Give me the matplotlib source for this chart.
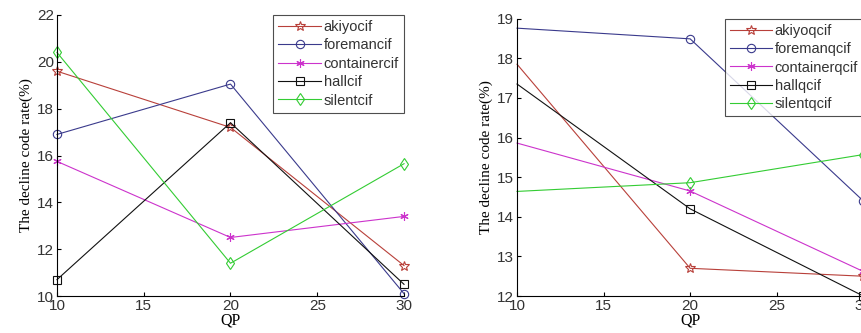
import matplotlib
matplotlib.use("Agg")
import matplotlib.pyplot as plt
from matplotlib.lines import Line2D

qp = [10, 20, 30]

# left panel (cif)
cif_names = ["akiyocif", "foremancif", "containercif", "hallcif", "silentcif"]
akiyo_cif = [19.6, 17.2, 11.3]
foreman_cif = [16.9, 19.05, 10.1]
container_cif = [15.75, 12.5, 13.4]
hall_cif = [10.7, 17.4, 10.5]
silent_cif = [20.4, 11.4, 15.65]

# right panel (qcif)
qcif_names = ["akiyoqcif", "foremanqcif", "containerqcif", "hallqcif", "silentqcif"]
akiyo_qcif = [17.85, 12.7, 12.5]
foreman_qcif = [18.76, 18.49, 14.4]
container_qcif = [15.86, 14.65, 12.62]
hall_qcif = [17.35, 14.2, 12.0]
silent_qcif = [14.64, 14.86, 15.57]

colors = ["#b8403a", "#3a3a8c", "#cc33cc", "#111111", "#33cc33"]
markers = ["*", "o", (6, 2, 0), "s", "d"]
msizes = [7, 6, 6, 6, 6]

plt.rcParams["font.family"] = ["Liberation Sans", "DejaVu Sans"]

fig = plt.figure(figsize=(8.62, 3.33), dpi=100)
ax1 = fig.add_axes([0.0661, 0.111, 0.4026, 0.844])
ax2 = fig.add_axes([0.5998, 0.111, 0.4017, 0.833])


def style(c, m, ms):
    return dict(color=c, lw=0.8, marker=m, markersize=ms, markerfacecolor="none",
                markeredgecolor=c, markeredgewidth=0.8)


def draw(ax, series, names, ylim, yticks, markevery):
    for vals, name, c, m, ms in zip(series, names, colors, markers, msizes):
        ax.plot(qp, vals, markevery=markevery, clip_on=False, label=name, **style(c, m, ms))
    ax.set_xlim(10, 30)
    ax.set_ylim(*ylim)
    ax.set_xticks([10, 15, 20, 25, 30])
    ax.set_yticks(yticks)
    for s in ["top", "right"]:
        ax.spines[s].set_visible(False)
    ax.spines["left"].set_linewidth(0.8)
    ax.spines["bottom"].set_linewidth(0.8)
    ax.tick_params(direction="in", length=3, labelsize=11, labelcolor="#333333", pad=2)
    ax.set_xlabel("QP", family="Liberation Serif", fontsize=11.5, labelpad=0)
    ax.set_ylabel("The decline code rate(%)", family="Liberation Serif", fontsize=11, labelpad=3)
    handles = [Line2D([0], [0], **style(c, m, ms)) for c, m, ms in zip(colors, markers, msizes)]
    leg = ax.legend(handles, names, loc="upper right", bbox_to_anchor=(1.0, 1.0),
                    fontsize=10.5, frameon=True, fancybox=False, edgecolor="#222222",
                    handlelength=2.9, handletextpad=0.2, labelspacing=0.3,
                    borderpad=0.35, borderaxespad=0)
    leg.get_frame().set_linewidth(0.8)
    for t in leg.get_texts():
        t.set_color("#333333")


draw(ax1, [akiyo_cif, foreman_cif, container_cif, hall_cif, silent_cif], cif_names,
     (10, 22), [10, 12, 14, 16, 18, 20, 22], None)
draw(ax2, [akiyo_qcif, foreman_qcif, container_qcif, hall_qcif, silent_qcif], qcif_names,
     (12, 19), [12, 13, 14, 15, 16, 17, 18, 19], [1, 2])

fig.savefig("out.png", dpi=100)
